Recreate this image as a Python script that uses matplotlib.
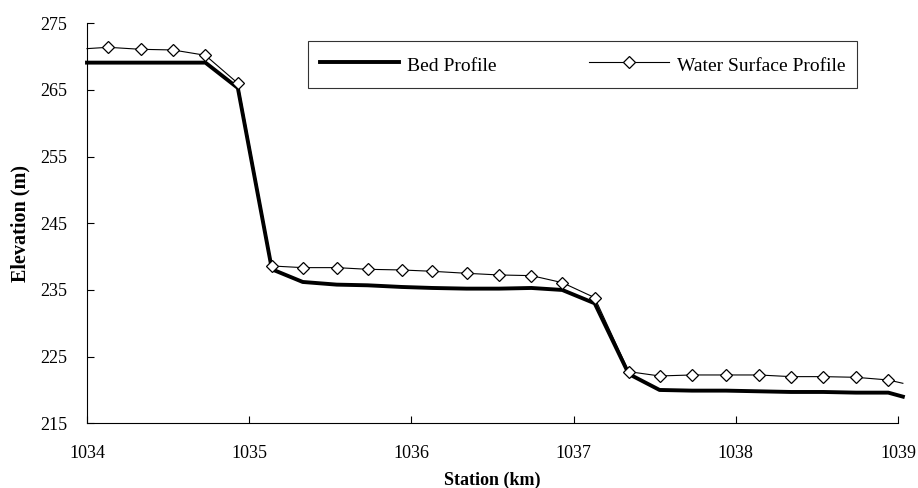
from matplotlib import pyplot as plt
import numpy as np

plt.rcParams['font.family'] = ['Liberation Serif', 'DejaVu Serif']

# stations along the reach (km)
station = [1034.0, 1034.13, 1034.33, 1034.53, 1034.73, 1034.93, 1035.14, 1035.33,
           1035.54, 1035.73, 1035.94, 1036.13, 1036.34, 1036.54, 1036.74, 1036.93,
           1037.13, 1037.34, 1037.53, 1037.73, 1037.94, 1038.14, 1038.34, 1038.54,
           1038.74, 1038.94, 1039.03]
# channel bed elevation (m)
bed = [269.1, 269.1, 269.1, 269.1, 269.1, 265.3, 238.1, 236.2,
       235.8, 235.7, 235.45, 235.3, 235.2, 235.2, 235.3, 235.0,
       233.0, 222.4, 220.0, 219.9, 219.9, 219.8, 219.7, 219.7,
       219.6, 219.6, 219.0]
# computed water surface elevation (m)
water = [271.2, 271.4, 271.1, 271.0, 270.2, 266.0, 238.6, 238.35,
         238.35, 238.1, 238.0, 237.8, 237.5, 237.25, 237.15, 236.1,
         233.85, 222.75, 222.1, 222.25, 222.25, 222.25, 222.0, 222.0,
         221.9, 221.5, 221.0]

fig = plt.figure(figsize=(9.18, 4.88), dpi=100)
ax = fig.add_axes([87 / 918, 1 - 423.3 / 488, 811 / 918, 400 / 488])

ax.plot(station, bed, color='black', linewidth=2.8, label='Bed Profile',
        clip_on=False, zorder=2)
ax.plot(station, water, color='black', linewidth=0.8, marker='D',
        markersize=6.5, markerfacecolor='white', markeredgecolor='black',
        markeredgewidth=0.9, markevery=list(range(1, len(station) - 1)),
        label='Water Surface Profile', clip_on=False, zorder=3)

ax.set_xlim(1034, 1039)
ax.set_ylim(215, 275)
ax.set_xticks(np.arange(1034, 1040, 1))
ax.set_yticks(np.arange(215, 276, 10))

for side in ['top', 'right']:
    ax.spines[side].set_visible(False)
for side in ['left', 'bottom']:
    ax.spines[side].set_linewidth(0.8)

ax.tick_params(direction='in', length=5, width=0.8, labelsize=13)
ax.tick_params(axis='x', pad=15.5)
ax.tick_params(axis='y', pad=14)

ax.set_xlabel('Station (km)', fontsize=13, fontweight='bold', labelpad=7)
ax.set_ylabel('Elevation (m)', fontsize=14.5, fontweight='bold', labelpad=7)

leg = ax.legend(loc='upper left', bbox_to_anchor=((308 - 87) / 811, (423.3 - 41) / 400),
                ncol=2, frameon=True, fancybox=False, edgecolor='black',
                fontsize=14, handlelength=4.1, handletextpad=0.4, handleheight=1.5,
                columnspacing=4.75, borderpad=0.6, borderaxespad=0)
leg.get_frame().set_linewidth(0.8)

plt.savefig('out.png', dpi=100)
plt.close()
